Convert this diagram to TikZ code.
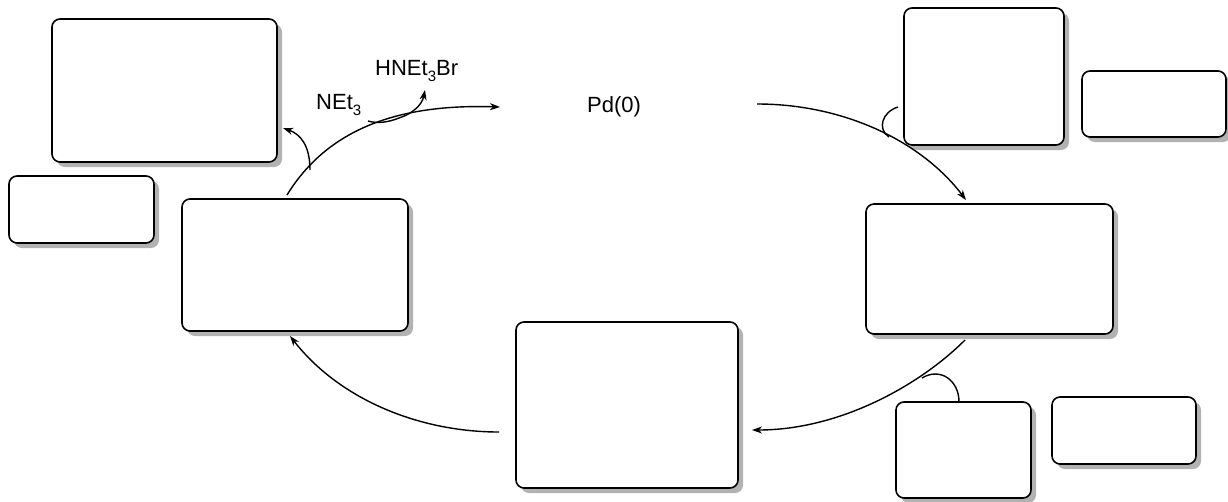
\documentclass[tikz,border=0pt]{standalone}
\usepackage{fontspec}
\setmainfont{Liberation Sans}
\usetikzlibrary{arrows.meta,shadows}
\newcommand{\lowidx}[1]{\raisebox{-0.28em}{\fontsize{15}{15}\selectfont #1}}
\begin{document}
\begin{tikzpicture}[x=1pt,y=-1pt,
  panel/.style={draw=black, line width=1.6pt, rounded corners=8pt, fill=white,
    inner sep=0pt, outer sep=0pt,
    drop shadow={shadow xshift=5pt, shadow yshift=-5pt, fill=black!30, opacity=1}},
  flow/.style={line width=1.4pt, -{Stealth[length=10pt,width=7pt,inset=3pt]}},
  curl/.style={line width=1.4pt},
  label/.style={inner sep=0pt, anchor=base west, font=\fontsize{22}{26}\selectfont}]
\useasboundingbox (0,0) rectangle (1228,501);

% intermediate panels
\node[panel, minimum width=225pt, minimum height=143pt] (A) at (164.5,90.5) {};
\node[panel, minimum width=145pt, minimum height=67pt]  (B) at (81.5,209.5) {};
\node[panel, minimum width=226pt, minimum height=132pt] (C) at (295,265) {};
\node[panel, minimum width=222pt, minimum height=166pt] (D) at (627,405) {};
\node[panel, minimum width=247pt, minimum height=130pt] (E) at (989.5,269) {};
\node[panel, minimum width=160pt, minimum height=137pt] (F) at (984,76.5) {};
\node[panel, minimum width=144pt, minimum height=66pt]  (G) at (1154,104) {};
\node[panel, minimum width=135pt, minimum height=96pt]  (H) at (963.5,450) {};
\node[panel, minimum width=144pt, minimum height=67pt]  (I) at (1124,430.5) {};

% labels
\node[label] (pd)   at (587,112) {Pd(0)};
\node[label] (net)  at (316,109) {NEt\lowidx{3}};
\node[label] (hnet) at (375,75)  {HNEt\lowidx{3}Br};

% end points of the catalytic arcs
\coordinate (s1) at (287,195);
\coordinate (e1) at (500,107);
\coordinate (s2) at (757,104);
\coordinate (e2) at (966,200);
\coordinate (s3) at (965,340);
\coordinate (e3) at (752,430);
\coordinate (s4) at (499,432);
\coordinate (e4) at (290,336);

% branch points on the arcs
\coordinate (b1) at (310,170);
\coordinate (t1) at (283,128);
\coordinate (n0) at (368,121);
\coordinate (m1) at (399,118);
\coordinate (t2) at (425,90);
\coordinate (k0) at (898,107);
\coordinate (k1) at (889,137);
\coordinate (q1) at (922,378);
\coordinate (q2) at (959,402);

% catalytic cycle
\draw[flow] (s1) .. controls (330,125) and (405,104) .. (e1);
\draw[flow] (s2) .. controls (845,104) and (922,142) .. (e2);
\draw[flow] (s3) .. controls (920,385) and (840,430) .. (e3);
\draw[flow] (s4) .. controls (420,432) and (340,400) .. (e4);

% side arrows and incoming/outgoing species
\draw[flow] (b1) .. controls (310,145) and (300,134) .. (t1);
\draw[curl] (n0) .. controls (378,124) and (389,122) .. (m1);
\draw[flow] (m1) .. controls (412,114) and (422,105) .. (t2);
\draw[curl] (k0) .. controls (882,112) and (877,129) .. (k1);
\draw[curl] (q1) .. controls (940,367) and (959,380) .. (q2);
\end{tikzpicture}
\end{document}
